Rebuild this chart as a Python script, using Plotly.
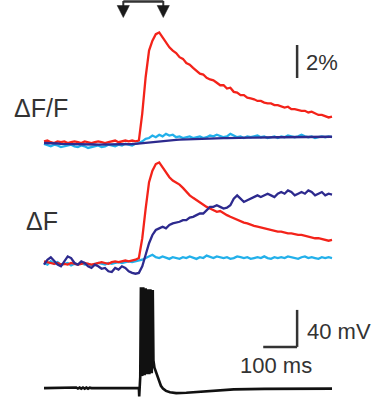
import plotly.graph_objects as go

# ---------------- data ----------------
T = list(range(0, 860, 10))  # ms, sample times of imaging traces

red_dff = [0.1, 0.15, 0.05, 0.0, 0.1, 0.05, 0.1, 0.0, 0.05, 0.1,
           0.05, 0.0, 0.1, 0.05, 0.0, 0.05, 0.1, 0.05, 0.0, 0.05,
           0.1, 0.15, 0.05, 0.1, 0.15, 0.1, 0.15, 0.1,
           0.15, 1.8, 4.0, 5.6, 6.2, 6.6, 6.7,
           6.4, 6.1, 5.8, 5.6, 5.45, 5.2, 5.1, 4.85, 4.75, 4.55, 4.4,
           4.2, 4.15, 3.95, 3.85, 3.8, 3.65, 3.5, 3.5, 3.3, 3.35,
           3.1, 3.05, 2.9, 2.9, 2.75, 2.7, 2.65, 2.55, 2.55, 2.45,
           2.4, 2.4, 2.3, 2.3, 2.2, 2.15, 2.2, 2.05, 2.05, 2.0,
           1.95, 1.95, 1.85, 1.9, 1.8, 1.7, 1.7, 1.6, 1.55, 1.6]

lb_dff = [-0.05, -0.15, -0.2, -0.1, -0.15, -0.25, -0.2, -0.15, -0.1, -0.2,
          -0.25, -0.15, -0.2, -0.3, -0.25, -0.2, -0.15, -0.25, -0.2, -0.1,
          -0.15, -0.2, -0.1, -0.15, -0.05, -0.1, -0.15, -0.05,
          0.0, 0.1, 0.25, 0.3, 0.45, 0.35, 0.5, 0.4, 0.55, 0.45,
          0.5, 0.35, 0.4, 0.3, 0.35, 0.4, 0.3, 0.35, 0.4, 0.3,
          0.35, 0.45, 0.4, 0.5, 0.4, 0.35, 0.4, 0.55, 0.45, 0.35,
          0.4, 0.3, 0.4, 0.35, 0.4, 0.45, 0.35, 0.4, 0.3, 0.35,
          0.4, 0.3, 0.4, 0.35, 0.45, 0.4, 0.35, 0.4, 0.5, 0.4,
          0.35, 0.4, 0.3, 0.35, 0.4, 0.35, 0.4, 0.35]

navy_dff = [0.0, 0.0, -0.02, -0.03, -0.03, -0.05, -0.05, -0.06, -0.06, -0.07,
            -0.07, -0.08, -0.08, -0.08, -0.09, -0.09, -0.1, -0.1, -0.1, -0.1,
            -0.1, -0.09, -0.09, -0.08, -0.08, -0.07, -0.06, -0.05,
            -0.03, 0.0, 0.03, 0.06, 0.09, 0.11, 0.13, 0.15, 0.16, 0.17,
            0.18, 0.19, 0.2, 0.21, 0.22, 0.22, 0.23, 0.24, 0.25, 0.25,
            0.26, 0.27, 0.27, 0.28, 0.28, 0.29, 0.29, 0.3, 0.3, 0.3,
            0.31, 0.31, 0.32, 0.32, 0.32, 0.33, 0.33, 0.33, 0.34, 0.34,
            0.34, 0.35, 0.35, 0.35, 0.35, 0.36, 0.36, 0.36, 0.36, 0.37,
            0.37, 0.37, 0.37, 0.38, 0.38, 0.38, 0.38, 0.38]

red_df = [0.1, 0.05, 0.0, -0.05, 0.0, -0.1, -0.05, -0.1, 0.0, -0.05,
          -0.1, -0.05, 0.0, -0.05, -0.1, -0.05, 0.0, 0.05, 0.0, -0.05,
          0.05, 0.1, 0.05, 0.1, 0.15, 0.1, 0.15, 0.2,
          0.3, 1.5, 3.3, 4.9, 5.6, 6.0, 6.1, 5.8, 5.5, 5.2,
          5.0, 4.9, 4.75, 4.55, 4.3, 4.1, 3.95, 3.8, 3.7, 3.55,
          3.4, 3.3, 3.2, 3.1, 3.15, 3.0, 2.9, 2.8, 2.7, 2.6,
          2.55, 2.45, 2.4, 2.3, 2.25, 2.2, 2.15, 2.1, 2.05, 2.0,
          1.95, 1.9, 1.9, 1.85, 1.8, 1.8, 1.75, 1.7, 1.7, 1.65,
          1.6, 1.55, 1.5, 1.5, 1.45, 1.4, 1.35, 1.4]

navy_df = [-0.1, 0.2, 0.35, 0.1, -0.1, -0.2, 0.1, 0.4, 0.3, 0.0,
           -0.1, 0.1, 0.0, -0.2, -0.3, -0.1, -0.2, -0.35, -0.3, -0.5,
           -0.55, -0.3, -0.4, -0.2, -0.3, -0.5, -0.6, -0.65, -0.6, -0.2,
           0.5, 1.2, 1.7, 2.0, 2.1, 2.2, 2.1, 2.3, 2.4, 2.45,
           2.5, 2.6, 2.6, 2.75, 2.8, 2.9, 3.0, 3.0, 3.2, 3.4,
           3.4, 3.5, 3.4, 3.3, 3.35, 3.5, 3.9, 4.1, 3.9, 3.7,
           3.8, 3.9, 4.0, 4.1, 4.0, 4.1, 4.2, 4.1, 4.0, 4.2,
           4.3, 4.2, 4.4, 4.3, 4.1, 4.2, 4.3, 4.2, 4.4, 4.3,
           4.1, 4.2, 4.3, 4.1, 4.2, 4.15]

lb_df = [0.0, -0.1, 0.1, -0.05, 0.05, -0.1, -0.05, 0.0, -0.15, -0.05,
         -0.1, 0.0, -0.1, -0.05, -0.15, -0.1, 0.0, -0.05, -0.1, 0.0,
         -0.05, 0.0, 0.05, 0.0, 0.05, 0.1, 0.05, 0.1, 0.15, 0.2,
         0.3, 0.4, 0.5, 0.35, 0.3, 0.4, 0.3, 0.25, 0.35, 0.3,
         0.25, 0.35, 0.3, 0.4, 0.3, 0.25, 0.35, 0.3, 0.45, 0.35,
         0.3, 0.4, 0.35, 0.3, 0.35, 0.25, 0.3, 0.4, 0.35, 0.3,
         0.35, 0.25, 0.3, 0.35, 0.3, 0.4, 0.3, 0.25, 0.35, 0.3,
         0.35, 0.3, 0.4, 0.35, 0.3, 0.25, 0.35, 0.4, 0.3, 0.35,
         0.3, 0.25, 0.35, 0.3, 0.35, 0.3]

# membrane potential (mV) with its own sample times (ms)
v_t = [0, 90, 95, 100, 105, 110, 115, 120, 125, 130,
       135, 140, 280, 281, 282, 284, 286, 288, 290, 293,
       295, 297, 300, 302, 304, 307, 309, 311, 314, 316,
       318, 321, 323, 326, 330, 334, 340, 345, 351, 360,
       372, 390, 420, 460, 500, 560, 650, 850]
v_mv = [-70, -70, -69.3, -70.5, -69.4, -70.6, -69.3, -70.5, -69.4, -70.6,
        -69.5, -70, -70, -79, -70, -58, 39, -45, -57, 39,
        -45, -56, 38, -45, -55, 37, -45, -55, 37, -45,
        -54, 36, -40, -48, -52, -56, -63, -67.5, -70.5, -73,
        -74.5, -75.4, -75, -74, -73, -71.4, -70.8, -70.5]

# labels / scale bars
LABEL_RATIO = "ΔF/F"
LABEL_DF = "ΔF"
SCALE_PCT = 2       # %
SCALE_MV = 40       # mV
SCALE_MS = 100      # ms
SCALE_X = 747       # ms, position of scale bars
SCALE_PCT_Y0 = 3.94
SCALE_MV_Y0 = -25.4
STIM_T = [234, 352]  # ms, arrow positions

RED = "#f3231a"
LIGHT = "#22b0ea"
NAVY = "#2d2a8e"
BLACK = "#111111"
GRAY = "#333333"

# ---------------- figure ----------------
fig = go.Figure()

def line(x, y, color, yaxis, width=2.3):
    fig.add_trace(go.Scatter(x=x, y=y, mode="lines", yaxis=yaxis,
                             line=dict(color=color, width=width),
                             hoverinfo="skip", showlegend=False))

line(T, red_dff, RED, "y")
line(T, lb_dff, LIGHT, "y")
line(T, navy_dff, NAVY, "y")

line(T, lb_df, LIGHT, "y2")
line(T, red_df, RED, "y2")
line(T, navy_df, NAVY, "y2")

line(v_t, v_mv, BLACK, "y3", width=2.6)

shapes = []
# 2% scale bar
shapes.append(dict(type="line", xref="x", yref="y", x0=SCALE_X, x1=SCALE_X,
                   y0=SCALE_PCT_Y0, y1=SCALE_PCT_Y0 + SCALE_PCT,
                   line=dict(color=GRAY, width=2.5)))
# 40 mV / 100 ms scale bars
shapes.append(dict(type="line", xref="x", yref="y3", x0=SCALE_X, x1=SCALE_X,
                   y0=SCALE_MV_Y0, y1=SCALE_MV_Y0 + SCALE_MV,
                   line=dict(color=GRAY, width=2.5)))
shapes.append(dict(type="line", xref="x", yref="y3", x0=SCALE_X - SCALE_MS, x1=SCALE_X,
                   y0=SCALE_MV_Y0, y1=SCALE_MV_Y0,
                   line=dict(color=GRAY, width=2.5)))

# stimulus arrows at top
H = 397.0
def py(p):
    return 1 - p / H

shapes.append(dict(type="line", xref="x", yref="paper", x0=STIM_T[0], x1=STIM_T[1],
                   y0=py(1.5), y1=py(1.5), line=dict(color=GRAY, width=2.5)))
for ts in STIM_T:
    shapes.append(dict(type="line", xref="x", yref="paper", x0=ts, x1=ts,
                       y0=py(1), y1=py(7), line=dict(color=GRAY, width=2)))
    shapes.append(dict(type="path", xref="x", yref="paper",
                       path=f"M {ts-18},{py(5.5)} L {ts+18},{py(5.5)} L {ts},{py(17.5)} Z",
                       fillcolor="#1a1a1a", line=dict(color="#1a1a1a", width=0.5)))

FONT = "Arial, Liberation Sans, Helvetica, sans-serif"
ann = [
    dict(text=LABEL_RATIO, x=41 / 381, y=py(108), size=25),
    dict(text=LABEL_DF, x=42 / 381, y=py(221), size=25),
]
annotations = []
for a in ann:
    annotations.append(dict(text=a["text"], xref="paper", yref="paper", x=a["x"], y=a["y"],
                            xanchor="center", yanchor="middle", showarrow=False,
                            font=dict(family=FONT, size=a["size"], color=GRAY)))
annotations.append(dict(text=f"{SCALE_PCT}%", xref="paper", yref="paper", x=304 / 381, y=py(63),
                        xanchor="left", yanchor="middle", showarrow=False,
                        font=dict(family=FONT, size=22, color=GRAY)))
annotations.append(dict(text=f"{SCALE_MV} mV", xref="paper", yref="paper", x=305 / 381, y=py(331),
                        xanchor="left", yanchor="middle", showarrow=False,
                        font=dict(family=FONT, size=22, color=GRAY)))
annotations.append(dict(text=f"{SCALE_MS} ms", xref="paper", yref="paper", x=276 / 381, y=py(365),
                        xanchor="center", yanchor="middle", showarrow=False,
                        font=dict(family=FONT, size=22, color=GRAY)))

ax_common = dict(visible=False, showgrid=False, zeroline=False, fixedrange=True)
fig.update_layout(
    width=381, height=397,
    margin=dict(l=0, r=0, t=0, b=0),
    paper_bgcolor="white", plot_bgcolor="white",
    showlegend=False,
    xaxis=dict(range=[-129.9, 994.6], **ax_common),
    yaxis=dict(range=[-15.394, 8.667], **ax_common),
    yaxis2=dict(range=[-8.121, 15.939], overlaying="y", **ax_common),
    yaxis3=dict(range=[-79.6, 349.8], overlaying="y", **ax_common),
    shapes=shapes,
    annotations=annotations,
)

fig.write_html("out.html")
